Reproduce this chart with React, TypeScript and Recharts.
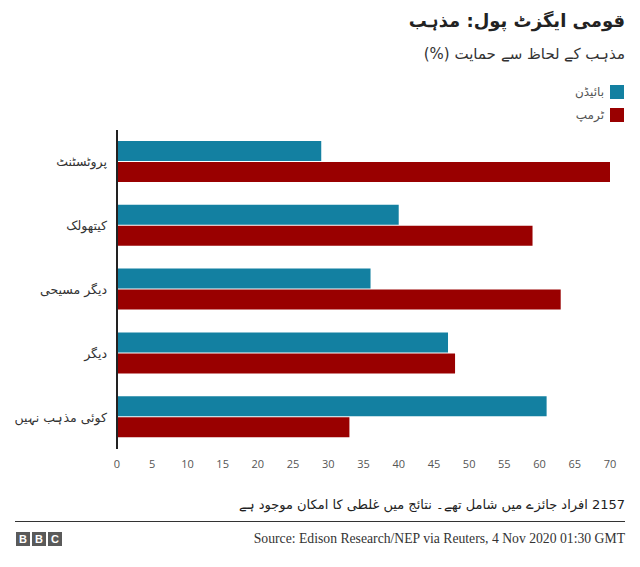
import React from "react"
import { Bar, BarChart, XAxis, YAxis } from "recharts"

// religion groups, top to bottom
const religions = ["پروٹسٹنٹ", "کیتھولک", "دیگر مسیحی", "دیگر", "کوئی مذہب نہیں"]
const bidenShare = [29, 40, 36, 47, 61]
const trumpShare = [70, 59, 63, 48, 33]
const xTicks = [0, 5, 10, 15, 20, 25, 30, 35, 40, 45, 50, 55, 60, 65, 70]

const BIDEN = "#1380A1"
const TRUMP = "#990000"
const URDU_FONT = "'DejaVu Sans', 'Noto Sans', sans-serif"

const data = religions.map((name, i) => ({
  name,
  biden: bidenShare[i],
  trump: trumpShare[i],
}))

const LegendRow = ({ color, label, top }: { color: string; label: string; top: number }) => (
  <div
    style={{
      position: "absolute",
      right: 16,
      top,
      display: "flex",
      alignItems: "center",
      gap: 6,
      fontFamily: URDU_FONT,
      fontSize: 12,
      color: "#555",
    }}
  >
    <span>{label}</span>
    <span style={{ width: 14, height: 14, background: color, display: "inline-block" }} />
  </div>
)

const BbcLogo = () => (
  <div style={{ position: "absolute", left: 16, top: 532, display: "flex", gap: 2 }}>
    {["B", "B", "C"].map((l, i) => (
      <div
        key={i}
        style={{
          width: 14,
          height: 14,
          background: "#5a5a5a",
          color: "#fff",
          fontFamily: "'Liberation Sans', Arial, sans-serif",
          fontWeight: 700,
          fontSize: 11,
          lineHeight: "14px",
          textAlign: "center",
        }}
      >
        {l}
      </div>
    ))}
  </div>
)

export default function App() {
  return (
    <div
      style={{
        position: "absolute",
        left: 0,
        top: 0,
        width: 640,
        height: 567,
        background: "#fff",
        overflow: "hidden",
      }}
    >
      <div
        dir="rtl"
        style={{
          position: "absolute",
          right: 15,
          top: 10,
          fontFamily: URDU_FONT,
          fontWeight: 700,
          fontSize: 18,
          color: "#222",
        }}
      >
        قومی ایگزٹ پول: مذہب
      </div>
      <div
        dir="rtl"
        style={{
          position: "absolute",
          right: 15,
          top: 45,
          fontFamily: URDU_FONT,
          fontSize: 15,
          color: "#333",
        }}
      >
        مذہب کے لحاظ سے حمایت (%)
      </div>

      <LegendRow color={BIDEN} label="بائیڈن" top={85} />
      <LegendRow color={TRUMP} label="ٹرمپ" top={108} />

      <div style={{ position: "absolute", left: 0, top: 0 }}>
        <BarChart
          width={640}
          height={480}
          data={data}
          layout="vertical"
          margin={{ top: 130, right: 30, bottom: 0, left: 0 }}
          barSize={20}
          barGap={1}
        >
          <XAxis
            type="number"
            domain={[0, 70]}
            ticks={xTicks}
            axisLine={false}
            tickLine={false}
            tickMargin={5}
            height={31}
            tick={{ fill: "#555", fontSize: 11, fontFamily: "'Open Sans', sans-serif" }}
          />
          <YAxis
            type="category"
            dataKey="name"
            width={117}
            axisLine={{ stroke: "#222", strokeWidth: 2 }}
            tickLine={false}
            tickMargin={4}
            tick={{ fill: "#333", fontSize: 12.5, fontFamily: URDU_FONT }}
          />
          <Bar dataKey="biden" fill={BIDEN} isAnimationActive={false} />
          <Bar dataKey="trump" fill={TRUMP} isAnimationActive={false} />
        </BarChart>
      </div>

      <div
        dir="rtl"
        style={{
          position: "absolute",
          right: 15,
          top: 497,
          fontFamily: URDU_FONT,
          fontSize: 13,
          color: "#222",
        }}
      >
        2157 افراد جائزے میں شامل تھے۔ نتائج میں غلطی کا امکان موجود ہے
      </div>
      <div
        style={{
          position: "absolute",
          left: 15,
          width: 610,
          top: 521,
          height: 1,
          background: "#333",
        }}
      />
      <BbcLogo />
      <div
        style={{
          position: "absolute",
          right: 15,
          top: 531,
          fontFamily: "'Liberation Serif', serif",
          fontSize: 13.7,
          color: "#333",
        }}
      >
        Source: Edison Research/NEP via Reuters, 4 Nov 2020 01:30 GMT
      </div>
    </div>
  )
}
